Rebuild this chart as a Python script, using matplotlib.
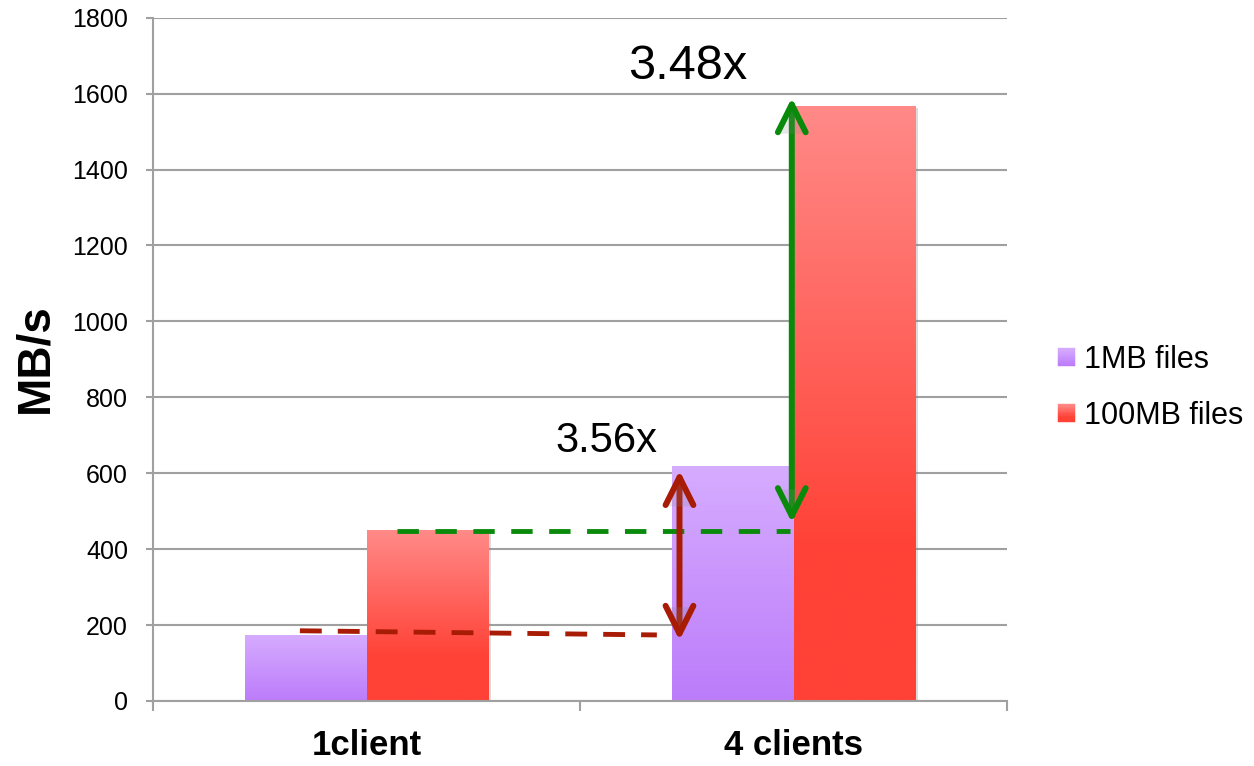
import numpy as np
import matplotlib
matplotlib.use("Agg")
import matplotlib.pyplot as plt
from matplotlib.patches import Rectangle, FancyArrowPatch, Patch
from matplotlib.legend_handler import HandlerBase
from matplotlib.colors import to_rgb
import matplotlib.patheffects as pe

# ---------------- data ----------------
categories = ["1client", "4 clients"]
series_names = ["1MB files", "100MB files"]
mb1_values = [174, 618]
mb100_values = [450, 1568]
y_ticks = [0, 200, 400, 600, 800, 1000, 1200, 1400, 1600, 1800]

# annotations (speed-up markers)
red_dash_x = [-0.156, 0.680]
red_dash_y = [185, 174]
green_dash_x = [0.071, 0.992]
green_dash_y = [448, 448]
red_arrow_x = 0.733
red_arrow_y = [160, 607]
green_arrow_x = 0.996
green_arrow_y = [470, 1589]
label_356 = ("3.56x", 0.561, 655)
label_348 = ("3.48x", 0.752, 1639)

# ---------------- style ----------------
plt.rcParams['font.family'] = ['Liberation Sans', 'DejaVu Sans']

purple_top, purple_bot = "#D6ACFF", "#BC7CFA"
red_top, red_bot = "#FF8A88", "#FF4136"
grid_col = "#A0A0A0"
dash_red = "#A81B05"
dash_green = "#0A8A0A"


def gradient(top, bottom, n=256, solid_frac=0.0):
    t = np.linspace(0, 1, n)  # 0 = top
    t = np.clip(t / (1 - solid_frac), 0, 1) if solid_frac > 0 else t
    ct, cb = np.array(to_rgb(top)), np.array(to_rgb(bottom))
    cols = ct[None, :] * (1 - t[:, None]) + cb[None, :] * t[:, None]
    return cols[:, None, :]


fig = plt.figure(figsize=(12.54, 7.66), dpi=100)
ax = fig.add_axes([153 / 1254, 1 - 701 / 766, (1007 - 153) / 1254, (701 - 17.7) / 766])

x = np.arange(len(categories))
w = 0.2857

bar_fx = [pe.SimplePatchShadow(offset=(2, -1.5), shadow_rgbFace="#888888", alpha=0.3), pe.Normal()]
bars_p = ax.bar(x - w / 2, mb1_values, w, color="white", zorder=2, linewidth=0, path_effects=bar_fx)
bars_r = ax.bar(x + w / 2, mb100_values, w, color="white", zorder=2, linewidth=0, path_effects=bar_fx)

gp = gradient(purple_top, purple_bot)
gr = gradient(red_top, red_bot, solid_frac=0.25)
for bars, g in ((bars_p, gp), (bars_r, gr)):
    for b in bars:
        x0, h, bw = b.get_x(), b.get_height(), b.get_width()
        im = ax.imshow(g, extent=[x0, x0 + bw, 0, h], aspect="auto", zorder=2.1,
                       interpolation="bilinear")
        im.set_clip_path(b)

ax.set_xlim(-0.5, 1.5)
ax.set_ylim(0, 1800)
ax.set_axisbelow(True)

# grid / spines
ax.set_yticks(y_ticks)
ax.yaxis.grid(True, color=grid_col, linewidth=1.5)
for s in ("top", "right"):
    ax.spines[s].set_visible(False)
for s in ("left", "bottom"):
    ax.spines[s].set_color(grid_col)
    ax.spines[s].set_linewidth(1.5)
ax.spines["left"].set_bounds(-7, 1800)
ax.spines["left"].set_clip_on(False)

ax.tick_params(axis="y", direction="out", length=5, width=1.5, color=grid_col,
               labelsize=18, pad=13)
ax.set_xticks(x)
ax.set_xticklabels(categories, fontsize=25, fontweight="bold")
ax.tick_params(axis="x", which="major", length=0, pad=20)
ax.set_xticks([-0.5, 0.5, 1.5], minor=True)
ax.tick_params(axis="x", which="minor", direction="out", length=7, width=1.5, color=grid_col)

fig.text(35 / 1254, 1 - 358 / 766, "MB/s", rotation=90, fontsize=33, fontweight="bold",
         ha="center", va="center")

# dashed guide lines (dash pattern in units of linewidth: 3.5pt * 4.5 = 15.75pt on, 3.5pt * 3.3 = 11.5pt off)
ax.plot(red_dash_x, red_dash_y, color=dash_red, lw=3.5, linestyle=(0, (4.5, 3.3)), zorder=5,
        dash_capstyle="butt")
ax.plot(green_dash_x, green_dash_y, color=dash_green, lw=3.5, linestyle=(0, (4.4, 3.4)), zorder=5,
        dash_capstyle="butt")

# double arrows
for ax_x, ys, col in ((red_arrow_x, red_arrow_y, dash_red), (green_arrow_x, green_arrow_y, dash_green)):
    arr = FancyArrowPatch((ax_x, ys[0]), (ax_x, ys[1]),
                          arrowstyle="<->,head_length=2.0,head_width=1.0", mutation_scale=10,
                          lw=4.3, color=col, shrinkA=0, shrinkB=0, zorder=6,
                          capstyle="round", joinstyle="round",
                          path_effects=[pe.SimplePatchShadow(offset=(1, -1), shadow_rgbFace="#888888", alpha=0.2), pe.Normal()])
    ax.add_patch(arr)

ax.text(label_356[1], label_356[2], label_356[0], fontsize=30, ha="center", va="baseline", zorder=7)
ax.text(label_348[1], label_348[2], label_348[0], fontsize=35, ha="center", va="baseline", zorder=7)


# legend with gradient squares
class GradHandler(HandlerBase):
    def __init__(self, top, bottom, solid_frac=0.0):
        super().__init__()
        self.g = gradient(top, bottom, n=14, solid_frac=solid_frac)[:, 0, :]

    def create_artists(self, legend, orig_handle, xdescent, ydescent, width, height, fontsize, trans):
        n = len(self.g)
        arts = []
        for i in range(n):
            c = self.g[i]
            y0 = -ydescent + height * (n - 1 - i) / n
            r = Rectangle((-xdescent, y0), width, height / n, facecolor=c, edgecolor=c,
                          lw=0.3, transform=trans)
            arts.append(r)
        return arts


h1, h2 = Patch(), Patch()
leg = fig.legend([h1, h2], series_names,
                 handler_map={h1: GradHandler(purple_top, purple_bot),
                              h2: GradHandler(red_top, red_bot, 0.25)},
                 loc="center left", bbox_to_anchor=(1058 / 1254, 1 - 388 / 766),
                 frameon=False, fontsize=22, borderpad=0, borderaxespad=0,
                 handlelength=0.55, handleheight=0.55, handletextpad=0.3, labelspacing=0.85)

fig.savefig("out.png", dpi=100)
